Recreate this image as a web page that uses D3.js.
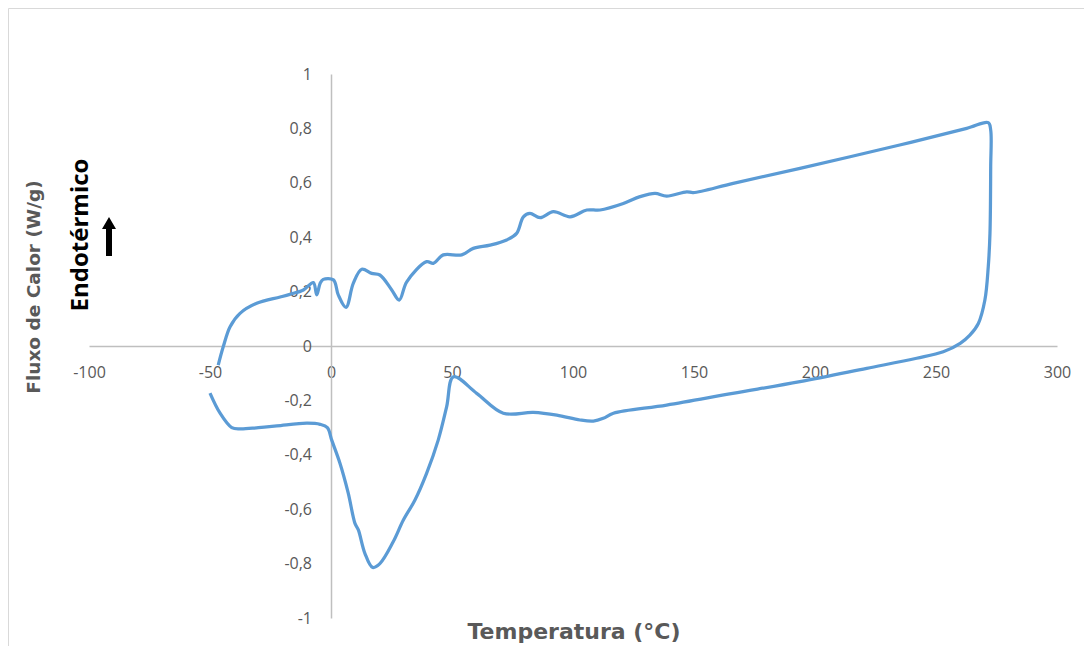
<!DOCTYPE html>
<html>
<head>
<meta charset="utf-8">
<script src="https://cdn.jsdelivr.net/npm/d3@7"></script>
<style>
  body { margin: 0; background: #fff; }
  svg { display: block; }
</style>
</head>
<body>
<svg width="1084" height="646"></svg>
<script>
// DSC loop: bottom branch left->right, then top branch right->left
var temperature = [-50, -45.9, -41, -37.6, -30, -22.4, -10, -4.5, -1.5, 0.3, 3.7, 7.1, 9.9, 11.3, 14, 17.2, 20.2, 25.7, 29.9, 34.7, 39.5, 44.3, 47.8, 50.6,
  60.2, 71.2, 83.6, 93.3, 102.9, 108.4, 112.5, 116.7, 138.7, 166, 193.8, 221.4, 242, 253, 260, 264, 267.5, 270.2, 271.6, 272.3, 272.6, 272.6, 271.6,
  262.7, 235, 193.8, 166.2, 149.7, 147, 138.7, 133.9, 127.7, 120.8, 111.2, 105.7, 98.8, 91.9, 86.4, 82.2, 79.5, 76.7, 72.6, 65.7, 58.8, 54, 46.4, 42.3, 39.5,
  31.3, 28.2, 25.1, 20.2, 16.8, 12.7, 9.2, 6.2, 3, 1, -3.2, -4.5, -5.9, -7.3, -11.4, -17, -21, -30.7, -37.6, -41.7, -44.5, -46.6];
var heatFlow = [-0.173, -0.246, -0.3, -0.305, -0.3, -0.294, -0.284, -0.288, -0.3, -0.346, -0.431, -0.54, -0.652, -0.676, -0.762, -0.814, -0.8, -0.72, -0.64, -0.566, -0.468, -0.346, -0.223, -0.113,
  -0.174, -0.247, -0.244, -0.254, -0.272, -0.276, -0.266, -0.247, -0.217, -0.174, -0.131, -0.082, -0.045, -0.021, 0.01, 0.04, 0.083, 0.169, 0.292, 0.414, 0.659, 0.794, 0.821,
  0.8, 0.739, 0.653, 0.598, 0.564, 0.567, 0.551, 0.561, 0.549, 0.524, 0.5, 0.5, 0.475, 0.494, 0.472, 0.488, 0.475, 0.414, 0.39, 0.371, 0.359, 0.335, 0.335, 0.304, 0.31,
  0.236, 0.169, 0.206, 0.261, 0.267, 0.282, 0.23, 0.142, 0.188, 0.243, 0.245, 0.23, 0.188, 0.233, 0.206, 0.19, 0.18, 0.157, 0.12, 0.071, -0.002, -0.07];

var xTicks = [-100, -50, 0, 50, 100, 150, 200, 250, 300];
var yTicks = [-1, -0.8, -0.6, -0.4, -0.2, 0, 0.2, 0.4, 0.6, 0.8, 1];

var svg = d3.select("svg");
var grey = "#595959";

// frame (only left and top edges are visible)
svg.append("line").attr("x1", 8.5).attr("y1", 8.5).attr("x2", 1084).attr("y2", 8.5).attr("stroke", "#d9d9d9");
svg.append("line").attr("x1", 8.5).attr("y1", 8.5).attr("x2", 8.5).attr("y2", 646).attr("stroke", "#d9d9d9");

var x = d3.scaleLinear().domain([-100, 300]).range([89, 1057]);
var y = d3.scaleLinear().domain([-1, 1]).range([618, 74]);

var fmt = function(d) { return String(d).replace(".", ","); };

svg.append("g")
  .attr("transform", "translate(0," + y(0) + ")")
  .call(d3.axisBottom(x).tickValues(xTicks).tickSize(0).tickSizeOuter(0).tickPadding(21).tickFormat(fmt));

svg.append("g")
  .attr("transform", "translate(" + x(0) + ",0)")
  .call(d3.axisLeft(y).tickValues(yTicks).tickSize(0).tickSizeOuter(0).tickPadding(19).tickFormat(fmt));

svg.selectAll(".domain").attr("stroke", "#bfbfbf").attr("stroke-width", 1.5);
svg.selectAll(".tick text")
  .attr("fill", grey)
  .attr("font-family", "Open Sans, sans-serif")
  .attr("font-size", 16);

var pts = temperature.map(function(t, i) { return [t, heatFlow[i]]; });
var line = d3.line()
  .x(function(d) { return x(d[0]); })
  .y(function(d) { return y(d[1]); })
  .curve(d3.curveCatmullRom.alpha(0.5));

svg.append("path")
  .datum(pts)
  .attr("fill", "none")
  .attr("stroke", "#5b9bd5")
  .attr("stroke-width", 3.25)
  .attr("stroke-linejoin", "round")
  .attr("d", line);

// titles
svg.append("text")
  .attr("transform", "translate(40,287) rotate(-90)")
  .attr("text-anchor", "middle")
  .attr("fill", grey)
  .attr("font-family", "DejaVu Sans, sans-serif")
  .attr("font-weight", "bold")
  .attr("font-size", 18.5)
  .text("Fluxo de Calor (W/g)");

svg.append("text")
  .attr("x", 574)
  .attr("y", 639)
  .attr("text-anchor", "middle")
  .attr("fill", grey)
  .attr("font-family", "DejaVu Sans, sans-serif")
  .attr("font-weight", "bold")
  .attr("font-size", 22)
  .text("Temperatura (°C)");

svg.append("text")
  .attr("transform", "translate(88,235) rotate(-90)")
  .attr("text-anchor", "middle")
  .attr("fill", "#000")
  .attr("font-family", "Open Sans, sans-serif")
  .attr("font-weight", "bold")
  .attr("font-size", 24)
  .text("Endotérmico");

// arrow pointing up
svg.append("path")
  .attr("d", "M109,217 L116,229 L112,229 L112,256 L106,256 L106,229 L102,229 Z")
  .attr("fill", "#000");
</script>
</body>
</html>
